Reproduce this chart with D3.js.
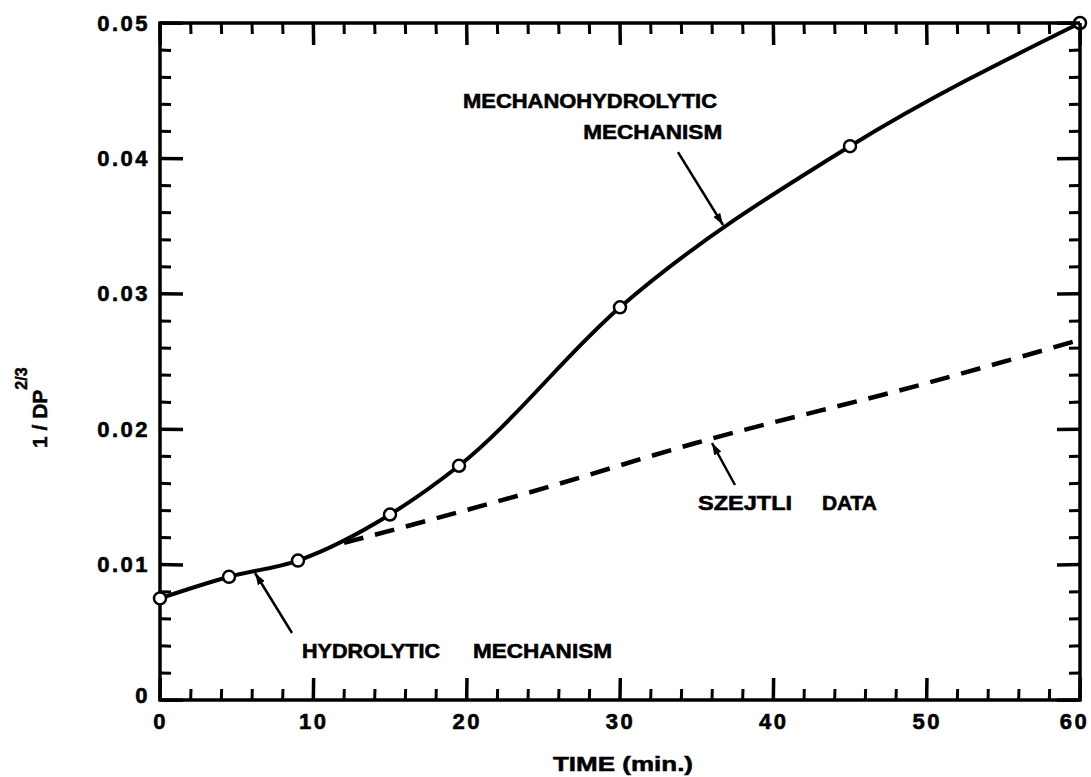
<!DOCTYPE html>
<html>
<head>
<meta charset="utf-8">
<script src="https://cdn.jsdelivr.net/npm/d3@7"></script>
<style>
  body { margin: 0; background: #fff; }
  text { font-family: "Liberation Sans", Arial, sans-serif; font-weight: bold; fill: #000; }
</style>
</head>
<body>
<svg id="chart"></svg>
<script>
// data
var timeMin = [0, 4.5, 9, 15, 19.5, 30, 45, 60];
var invDP = [0.0075, 0.0091, 0.0103, 0.0137, 0.0173, 0.0290, 0.0409, 0.0500];

var szejtliTime = [12, 24, 35, 50, 60];
var szejtliVal = [0.0116, 0.0153, 0.0190, 0.0234, 0.0266];

var xTickValues = [0, 10, 20, 30, 40, 50, 60];
var yTickValues = [0, 0.01, 0.02, 0.03, 0.04, 0.05];
var yTickLabels = ["0", "0.01", "0.02", "0.03", "0.04", "0.05"];

var svgWidth = 1091;
var svgHeight = 777;

var margin = { top: 23, right: 11, bottom: 77, left: 160 };
var width = svgWidth - margin.left - margin.right;
var height = svgHeight - margin.top - margin.bottom;

var svg = d3.select("#chart")
  .attr("width", svgWidth)
  .attr("height", svgHeight);

var chartGroup = svg.append("g")
  .attr("transform", `translate(${margin.left}, ${margin.top})`);

var x = d3.scaleLinear().domain([0, 60]).range([0, width]);
var y = d3.scaleLinear().domain([0, 0.05]).range([height, 0]);

// frame
chartGroup.append("rect")
  .attr("x", 0).attr("y", 0)
  .attr("width", width).attr("height", height)
  .attr("fill", "none")
  .attr("stroke", "#000")
  .attr("stroke-width", 3.5);

// tick labels from d3 axes
function labelAxis(g) {
  g.select(".domain").remove();
  g.selectAll(".tick line").remove();
  g.selectAll(".tick text")
    .attr("font-size", 22)
    .attr("font-family", "Liberation Sans, Arial, sans-serif")
    .attr("font-weight", "bold")
    .attr("letter-spacing", 2.5)
    .attr("fill", "#000")
    .attr("stroke", "#000")
    .attr("stroke-width", 0.6);
}

var bottomAxis = d3.axisBottom(x).tickValues(xTickValues).tickSize(0).tickPadding(13).tickFormat(d3.format("d"));
var leftAxis = d3.axisLeft(y).tickValues(yTickValues).tickSize(0).tickPadding(10)
  .tickFormat((d, i) => yTickLabels[i]);

chartGroup.append("g")
  .attr("class", "xlab")
  .attr("transform", `translate(0, ${height})`)
  .call(bottomAxis)
  .call(labelAxis);
chartGroup.append("g")
  .attr("class", "ylab")
  .call(leftAxis)
  .call(labelAxis);

// keep the last x label inside the picture
svg.selectAll(".xlab .tick text").filter(d => d === 60).attr("dx", -6);
svg.selectAll(".ylab .tick text").filter(d => d === 0).attr("dy", "0.1em");

// dashed Szejtli curve
var dashLine = d3.line()
  .x((d, i) => x(szejtliTime[i]))
  .y(d => y(d))
  .curve(d3.curveMonotoneX);

chartGroup.append("path")
  .datum(szejtliVal)
  .attr("d", dashLine)
  .attr("fill", "none")
  .attr("stroke", "#000")
  .attr("stroke-width", 4.5)
  .attr("stroke-dasharray", "20,12");

// solid curve
var solidLine = d3.line()
  .x((d, i) => x(timeMin[i]))
  .y(d => y(d))
  .curve(d3.curveMonotoneX);

chartGroup.append("path")
  .datum(invDP)
  .attr("d", solidLine)
  .attr("fill", "none")
  .attr("stroke", "#000")
  .attr("stroke-width", 4);

chartGroup.selectAll("circle")
  .data(invDP)
  .enter()
  .append("circle")
  .attr("cx", (d, i) => x(timeMin[i]))
  .attr("cy", d => y(d))
  .attr("r", 6)
  .attr("fill", "#fff")
  .attr("stroke", "#000")
  .attr("stroke-width", 2.5);

// annotations (positions in data units)
var labels = [
  { text: "MECHANOHYDROLYTIC", t: 19.76, v: 0.04372, len: 254 },
  { text: "MECHANISM", t: 27.6, v: 0.04143, len: 139 },
  { text: "HYDROLYTIC", t: 9.26, v: 0.0031, len: 138 },
  { text: "MECHANISM", t: 20.41, v: 0.0031, len: 139 },
  { text: "SZEJTLI", t: 35.09, v: 0.01403, len: 94 },
  { text: "DATA", t: 43.17, v: 0.01403, len: 55 }
];

var arrows = [
  { t0: 33.78, v0: 0.04047, t1: 36.72, v1: 0.03508 },
  { t0: 8.61, v0: 0.00495, t1: 6.2, v1: 0.00938 },
  { t0: 37.5, v0: 0.01588, t1: 36.0, v1: 0.01898 }
];

svg.append("defs").append("marker")
  .attr("id", "head")
  .attr("viewBox", "0 0 12 8")
  .attr("refX", 12).attr("refY", 4)
  .attr("markerWidth", 12).attr("markerHeight", 8)
  .attr("markerUnits", "userSpaceOnUse")
  .attr("orient", "auto")
  .append("path")
  .attr("d", "M0,0 L12,4 L0,8 Z")
  .attr("fill", "#000");

chartGroup.selectAll(".arrow")
  .data(arrows)
  .enter()
  .append("line")
  .attr("class", "arrow")
  .attr("x1", d => x(d.t0)).attr("y1", d => y(d.v0))
  .attr("x2", d => x(d.t1)).attr("y2", d => y(d.v1))
  .attr("stroke", "#000")
  .attr("stroke-width", 2.5)
  .attr("marker-end", "url(#head)");

chartGroup.selectAll(".note")
  .data(labels)
  .enter()
  .append("text")
  .attr("class", "note")
  .attr("x", d => x(d.t))
  .attr("y", d => y(d.v))
  .attr("font-size", 21)
  .attr("stroke", "#000")
  .attr("stroke-width", 0.6)
  .attr("textLength", d => d.len)
  .attr("lengthAdjust", "spacingAndGlyphs")
  .text(d => d.text);

// axis titles
chartGroup.append("text")
  .attr("x", width / 2 + 3)
  .attr("y", height + 71)
  .attr("text-anchor", "middle")
  .attr("font-size", 20)
  .attr("stroke", "#000")
  .attr("stroke-width", 0.5)
  .attr("textLength", 140)
  .attr("lengthAdjust", "spacingAndGlyphs")
  .text("TIME (min.)");

var yTitle = svg.append("text")
  .attr("transform", "translate(47, 448) rotate(-90)")
  .attr("font-size", 21)
  .attr("stroke", "#000")
  .attr("stroke-width", 0.5);
yTitle.append("tspan").text("1 / DP");
yTitle.append("tspan").attr("dy", -20).attr("font-size", 16).text("2/3");

// tick marks last, pointing into the plot, as diagonal-free lines placed in the top svg
var tickRows = [];
x.ticks(30).forEach(d => tickRows.push({ v: d, axis: "x", len: xTickValues.includes(d) ? 22 : 11 }));
y.ticks(25).forEach(d => tickRows.push({ v: d, axis: "y", len: yTickValues.includes(d) ? 23 : 11 }));

var tickLayer = svg.append("g").attr("class", "tick-layer");
function addTick(x1, y1, x2, y2, w) {
  tickLayer.append("line")
    .attr("class", "arrow")
    .attr("x1", x1).attr("y1", y1)
    .attr("x2", x2).attr("y2", y2)
    .attr("stroke", "#000")
    .attr("stroke-width", w);
}
tickRows.forEach(function(t) {
  var w = t.len > 15 ? 3.5 : 3;
  if (t.axis === "x") {
    var px = margin.left + x(t.v);
    addTick(px, margin.top + height, px + 0.3, margin.top + height - t.len, w);
    addTick(px, margin.top, px + 0.3, margin.top + t.len, w);
  } else {
    var py = margin.top + y(t.v);
    addTick(margin.left, py, margin.left + t.len, py + 0.3, w);
    addTick(margin.left + width, py, margin.left + width - t.len, py + 0.3, w);
  }
});
</script>
</body>
</html>
